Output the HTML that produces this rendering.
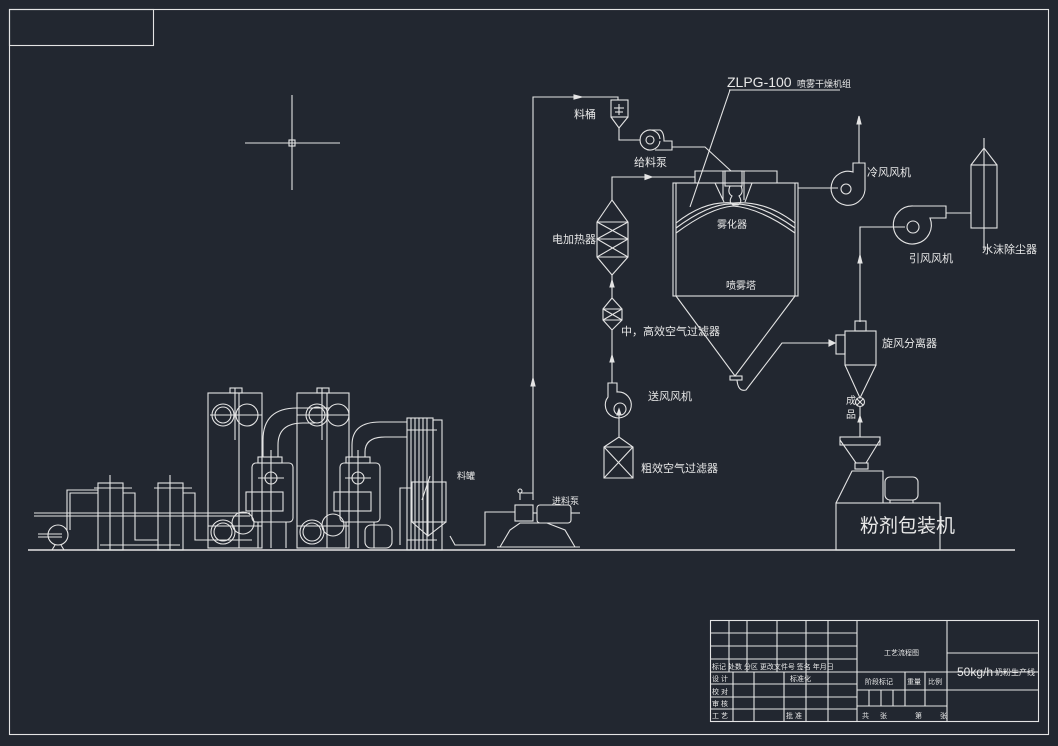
<!DOCTYPE html>
<html><head><meta charset="utf-8"><style>
html,body{margin:0;padding:0;background:#222730;}
svg{display:block}
text{font-family:"Liberation Sans","Noto Sans CJK SC",sans-serif;fill:#e8e8e8}
</style></head><body>
<svg width="1058" height="746" viewBox="0 0 1058 746" xmlns="http://www.w3.org/2000/svg">
<rect width="1058" height="746" fill="#222730"/>
<g fill="none" stroke="#e4e4e4" stroke-width="1.1">
<!-- frame -->
<rect x="9.5" y="9.5" width="1039" height="725"/>
<rect x="9.5" y="9.5" width="144" height="36"/>
<!-- crosshair -->
<line x1="245" y1="143" x2="340" y2="143"/><line x1="292" y1="95" x2="292" y2="190"/>
<rect x="289" y="140" width="6" height="6"/>
<!-- ground -->
<line x1="28" y1="550" x2="1015" y2="550" stroke-width="1.5"/>

<!-- title leader -->
<line x1="729" y1="90" x2="840" y2="90"/><line x1="730" y1="90" x2="690" y2="207"/>
<!-- feed line -->
<polyline points="533,500 533,97 618,97 618,100"/>
<polygon points="533,378 531,386 535,386" fill="#e4e4e4"/>
<polygon points="582,97 574,95 574,99" fill="#e4e4e4"/>
<!-- bucket -->
<rect x="611" y="100" width="17" height="17"/>
<polyline points="611,117 619,128 628,117"/>
<line x1="619" y1="104" x2="619" y2="115"/><line x1="614" y1="108" x2="624" y2="108"/><line x1="615" y1="112" x2="623" y2="112"/>
<polyline points="619,128 619,140 640,140"/>
<!-- feed pump -->
<path d="M660,141 A10,10 0 1,1 660,139"/>
<path d="M650,130 L660,130 Q664,132 664,141 L672,141 L672,150 L655,150"/>
<circle cx="650" cy="140" r="4"/>
<polyline points="672,147 705,147 731,171"/>
<!-- tower top -->
<polyline points="695,183 695,171 777,171 777,183"/>
<rect x="725" y="171" width="17" height="15"/>
<line x1="723" y1="171" x2="723" y2="200"/><line x1="744" y1="171" x2="744" y2="200"/>
<path d="M730,186 Q727,193 732,196 Q728,202 733,205 L738,205 Q743,202 739,196 Q744,193 741,186"/>
<polyline points="676,183 715,183 724,202"/><polyline points="795,183 752,183 745,202"/>
<rect x="673" y="183" width="125" height="113"/>
<line x1="676" y1="183" x2="676" y2="296"/><line x1="795" y1="183" x2="795" y2="296"/>
<path d="M676,228 Q710,203 733,204 Q760,203 795,228"/>
<path d="M676,233 Q710,208 733,206 Q760,208 795,233"/>
<path d="M676,223 Q705,200 733,203 Q765,200 795,223"/>
<polyline points="676,296 735,376 795,296"/>
<rect x="730" y="376" width="12" height="4"/>
<path d="M737,380 Q738,392 746,390 L782,343 L835,343"/>
<polygon points="835,343 829,340 829,346" fill="#e4e4e4"/>
<!-- hot air line -->
<polyline points="612,200 612,177 695,177"/>
<polygon points="652,177 645,174.5 645,179.5" fill="#e4e4e4"/>
<!-- heater -->
<polygon points="612,200 597,222 597,257 612,275 628,257 628,222"/>
<line x1="597" y1="222" x2="628" y2="222"/><line x1="597" y1="239" x2="628" y2="239"/><line x1="597" y1="257" x2="628" y2="257"/>
<line x1="597" y1="222" x2="628" y2="239"/><line x1="628" y1="222" x2="597" y2="239"/>
<line x1="597" y1="239" x2="628" y2="257"/><line x1="628" y1="239" x2="597" y2="257"/>
<line x1="612" y1="275" x2="612" y2="298"/>
<polygon points="612,280 610,287 614,287" fill="#e4e4e4"/>
<!-- mid filter -->
<polygon points="612,298 603,309 603,320 612,330 622,320 622,309"/>
<line x1="603" y1="309" x2="622" y2="309"/><line x1="603" y1="320" x2="622" y2="320"/>
<line x1="603" y1="309" x2="622" y2="320"/><line x1="622" y1="309" x2="603" y2="320"/>
<line x1="612" y1="330" x2="612" y2="383"/>
<polygon points="612,355 610,362 614,362" fill="#e4e4e4"/>
<!-- supply fan -->
<path d="M608,383 L617,383 L617,392 A13,13 0 1,1 608,397 Z"/>
<circle cx="620" cy="409" r="6"/>
<line x1="619" y1="409" x2="619" y2="437"/>
<polygon points="619,409 617,415 621,415" fill="#e4e4e4"/>
<!-- coarse filter -->
<polygon points="604,447 619,437 633,447 633,478 604,478"/>
<line x1="604" y1="447" x2="633" y2="447"/>
<line x1="604" y1="447" x2="633" y2="478"/><line x1="633" y1="447" x2="604" y2="478"/>
<!-- cold air fan -->
<line x1="798" y1="188" x2="838" y2="188"/>
<path d="M853,163 L865,163 L865,190 A17,17 0 1,1 853,172 Z"/>
<circle cx="846" cy="189" r="5"/>
<line x1="859" y1="163" x2="859" y2="118"/>
<polygon points="859,116 857,124 861,124" fill="#e4e4e4"/>
<!-- induced fan -->
<path d="M913,206 L946,206 L946,218 L930,218 A19,19 0 1,1 913,206 Z"/>
<circle cx="913" cy="227" r="6"/>
<line x1="946" y1="213" x2="971" y2="213"/>
<polyline points="860,322 860,227 905,227"/>
<polygon points="860,255 858,263 862,263" fill="#e4e4e4"/>
<!-- scrubber -->
<rect x="971" y="165" width="26" height="63"/>
<polyline points="971,165 984,148 997,165"/>
<line x1="984" y1="138" x2="984" y2="250"/>
<!-- cyclone -->
<rect x="855" y="321" width="11" height="10"/>
<rect x="845" y="331" width="31" height="34"/>
<rect x="836" y="335" width="9" height="19"/>
<polyline points="845,365 860,398 876,365"/>
<circle cx="860" cy="402" r="4.5"/>
<line x1="857" y1="399" x2="863" y2="405"/><line x1="863" y1="399" x2="857" y2="405"/>
<line x1="860" y1="406" x2="860" y2="437"/>
<polygon points="860,416 858,422 862,422" fill="#e4e4e4"/>
<!-- packaging -->
<rect x="840" y="437" width="40" height="8"/>
<polyline points="840,440 856,463 866,463 880,440"/>
<rect x="855" y="463" width="13" height="6"/>
<polyline points="836,503 852,471 883,471 883,503"/>
<rect x="885" y="477" width="33" height="23" rx="5"/>
<line x1="890" y1="500" x2="890" y2="503"/><line x1="913" y1="500" x2="913" y2="503"/>
<rect x="836" y="503" width="104" height="47"/>

<!-- feed pump (left) -->
<polyline points="520,500 520,493 533,493"/>
<circle cx="520" cy="491" r="2"/>
<rect x="515" y="505" width="18" height="16"/>
<rect x="537" y="505" width="34" height="18" rx="3"/>
<line x1="533" y1="513" x2="537" y2="513"/><line x1="571" y1="513" x2="580" y2="513"/>
<polyline points="500,547 510,530 520,523 547,523 565,530 575,547"/>
<line x1="497" y1="547" x2="580" y2="547"/>
<polyline points="515,512 485,512 485,545 455,545 450,536"/>
<!-- tank -->
<rect x="412" y="482" width="34" height="40"/>
<polyline points="412,522 428,536 446,522"/>
<line x1="428" y1="482" x2="428" y2="536"/>
<line x1="430" y1="476" x2="422" y2="500"/>
<polyline points="412,488 400,488 400,545"/>
<!-- condenser -->
<rect x="407" y="418" width="26" height="132"/>
<line x1="411" y1="418" x2="411" y2="550"/><line x1="415" y1="418" x2="415" y2="550"/><line x1="419" y1="418" x2="419" y2="550"/><line x1="423" y1="418" x2="423" y2="550"/><line x1="427" y1="418" x2="427" y2="550"/>
<line x1="407" y1="430" x2="437" y2="430"/><line x1="407" y1="540" x2="437" y2="540"/>
<rect x="433" y="420" width="9" height="130"/>
<!-- panel 1 -->
<rect x="208" y="393" width="54" height="155"/>
<line x1="239" y1="393" x2="239" y2="548"/>
<line x1="235" y1="388" x2="235" y2="440"/><rect x="230" y="388" width="12" height="5"/>
<circle cx="223" cy="415" r="11"/><circle cx="223" cy="415" r="8"/><circle cx="247" cy="415" r="11"/>
<line x1="210" y1="415" x2="262" y2="415"/>
<circle cx="223" cy="532" r="12"/><circle cx="223" cy="532" r="9"/><circle cx="243" cy="523" r="11"/>
<line x1="208" y1="526" x2="262" y2="526"/>
<!-- panel 2 -->
<rect x="297" y="393" width="52" height="155"/>
<line x1="327" y1="393" x2="327" y2="548"/>
<line x1="322" y1="388" x2="322" y2="440"/><rect x="317" y="388" width="12" height="5"/>
<circle cx="317" cy="415" r="11"/><circle cx="317" cy="415" r="8"/><circle cx="338" cy="415" r="11"/>
<line x1="297" y1="415" x2="349" y2="415"/>
<circle cx="312" cy="532" r="12"/><circle cx="312" cy="532" r="9"/><circle cx="333" cy="525" r="11"/>
<line x1="297" y1="526" x2="349" y2="526"/>
<!-- vessel 1 -->
<rect x="252" y="463" width="41" height="59" rx="4"/>
<rect x="258" y="457" width="24" height="6"/>
<rect x="246" y="492" width="37" height="19"/>
<circle cx="271" cy="478" r="6"/><line x1="258" y1="478" x2="284" y2="478"/>
<line x1="271" y1="450" x2="271" y2="548"/>
<path d="M263,457 L263,440 Q263,408 297,408 L330,408"/>
<path d="M278,457 L278,445 Q278,423 303,423 L315,423"/>
<line x1="258" y1="522" x2="258" y2="548"/><line x1="286" y1="522" x2="286" y2="548"/>
<!-- vessel 2 -->
<rect x="340" y="463" width="40" height="59" rx="4"/>
<rect x="346" y="457" width="24" height="6"/>
<rect x="334" y="492" width="37" height="19"/>
<circle cx="358" cy="478" r="6"/><line x1="345" y1="478" x2="371" y2="478"/>
<line x1="358" y1="450" x2="358" y2="548"/>
<path d="M352,457 L352,445 Q352,422 380,422 L407,422"/>
<path d="M365,457 L365,452 Q365,437 385,437 L407,437"/>
<rect x="365" y="525" width="27" height="23" rx="6"/>
<line x1="346" y1="522" x2="346" y2="548"/><line x1="374" y1="522" x2="374" y2="548"/>
<!-- small filters -->
<rect x="98" y="483" width="25" height="67"/>
<line x1="110" y1="475" x2="110" y2="550"/>
<line x1="94" y1="488" x2="132" y2="488"/>
<rect x="158" y="483" width="25" height="67"/>
<line x1="170" y1="475" x2="170" y2="550"/>
<line x1="154" y1="488" x2="192" y2="488"/>
<line x1="34" y1="513" x2="250" y2="513"/><line x1="34" y1="516" x2="250" y2="516"/>
<polyline points="67,530 67,490 98,490"/><polyline points="70,530 70,493 98,493"/>
<polyline points="123,493 135,493 135,540 158,540"/>
<polyline points="183,493 195,493 195,540 252,540"/>
<circle cx="58" cy="535" r="10"/>
<line x1="38" y1="534" x2="62" y2="534"/><line x1="38" y1="537" x2="62" y2="537"/>
<polyline points="52,550 55,545"/><polyline points="64,550 61,545"/>
<line x1="100" y1="545" x2="180" y2="545"/>

<!-- title block -->
<rect x="710.5" y="620.5" width="328" height="101"/>
<line x1="710" y1="633" x2="857" y2="633"/><line x1="710" y1="646" x2="857" y2="646"/><line x1="710" y1="659" x2="857" y2="659"/>
<line x1="710" y1="672" x2="1038" y2="672"/><line x1="710" y1="684" x2="857" y2="684"/><line x1="710" y1="697" x2="857" y2="697"/><line x1="710" y1="709" x2="857" y2="709"/>
<line x1="729" y1="620" x2="729" y2="672"/><line x1="747" y1="620" x2="747" y2="672"/><line x1="777" y1="620" x2="777" y2="672"/><line x1="806" y1="620" x2="806" y2="721"/><line x1="828" y1="620" x2="828" y2="721"/>
<line x1="733" y1="672" x2="733" y2="721"/><line x1="754" y1="672" x2="754" y2="721"/><line x1="784" y1="672" x2="784" y2="721"/>
<line x1="857" y1="620" x2="857" y2="721"/><line x1="947" y1="620" x2="947" y2="721"/>
<line x1="947" y1="653" x2="1038" y2="653"/><line x1="857" y1="690" x2="1038" y2="690"/><line x1="857" y1="706" x2="947" y2="706"/>
<line x1="905" y1="672" x2="905" y2="706"/><line x1="925" y1="672" x2="925" y2="706"/>
<line x1="869" y1="690" x2="869" y2="706"/><line x1="881" y1="690" x2="881" y2="706"/><line x1="893" y1="690" x2="893" y2="706"/>
</g>
<g font-size="11">
<text x="727" y="87" font-size="14">ZLPG-100</text><text x="797" y="87" font-size="9">喷雾干燥机组</text>
<text x="574" y="118">料桶</text>
<text x="634" y="166">给料泵</text>
<text x="717" y="228" font-size="10">雾化器</text>
<text x="726" y="289" font-size="10">喷雾塔</text>
<text x="552" y="243">电加热器</text>
<text x="621" y="335">中，高效空气过滤器</text>
<text x="648" y="400">送风风机</text>
<text x="641" y="472">粗效空气过滤器</text>
<text x="867" y="176">冷风风机</text>
<text x="909" y="262">引风风机</text>
<text x="982" y="253">水沫除尘器</text>
<text x="882" y="347">旋风分离器</text>
<text x="846" y="404" font-size="10">成</text><text x="846" y="418" font-size="10">品</text>
<text x="457" y="479" font-size="9">料罐</text>
<text x="552" y="504" font-size="9">进料泵</text>
<text x="860" y="532" font-size="19">粉剂包装机</text>
<g font-size="7">
<text x="712" y="669">标记 处数 分区 更改文件号 签名 年月日</text>
<text x="712" y="681">设 计</text><text x="790" y="681">标准化</text>
<text x="712" y="694">校 对</text><text x="712" y="706">审 核</text><text x="712" y="718">工 艺</text><text x="786" y="718">批 准</text>
<text x="884" y="655">工艺流程图</text>
<text x="865" y="684">阶段标记</text><text x="907" y="684">重量</text><text x="928" y="684">比例</text>
<text x="862" y="718">共</text><text x="880" y="718">张</text><text x="915" y="718">第</text><text x="940" y="718">张</text>
</g>
<text x="957" y="676" font-size="12">50kg/h</text><text x="995" y="675" font-size="8">奶粉生产线</text>
</g>
</svg>
</body></html>
